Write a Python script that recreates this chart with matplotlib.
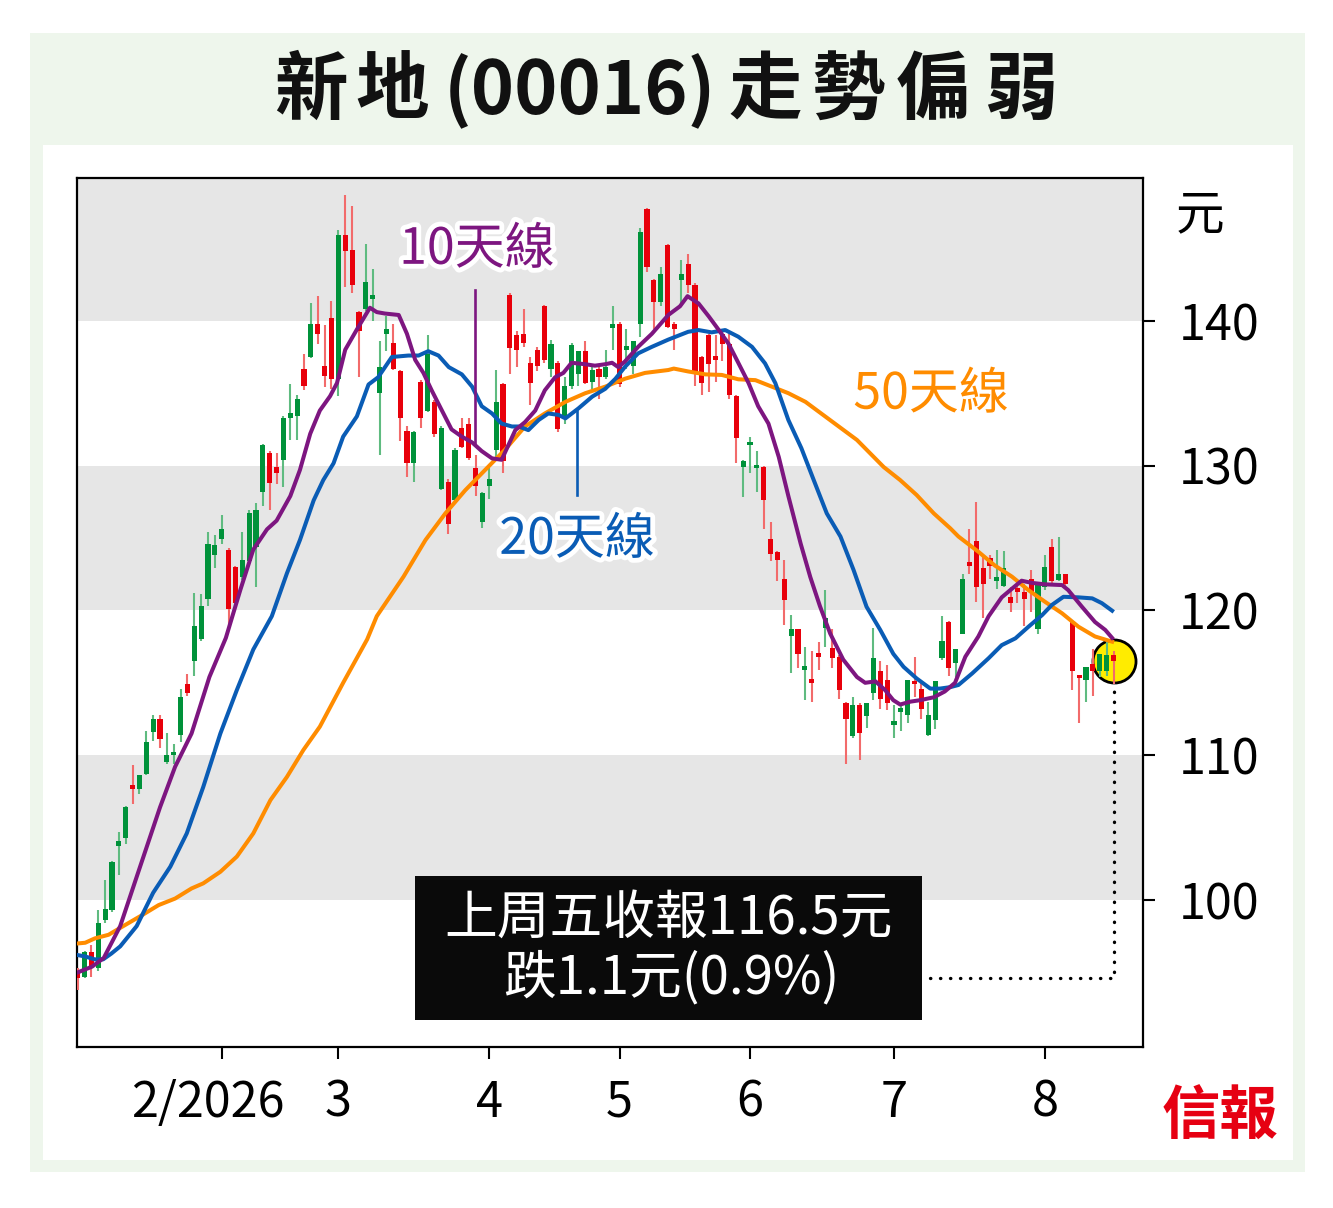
import matplotlib
matplotlib.use('Agg')
import matplotlib.pyplot as plt
from matplotlib.patches import Rectangle
import matplotlib.patheffects as pe
import numpy as np

plt.rcParams['font.family'] = ['Noto Sans CJK TC', 'DejaVu Sans']

# ---------------- data ----------------
opens = [95.0, 94.7, 96.4, 95.3, 98.6, 99.3, 103.7, 104.3, 107.9, 107.7,
         108.7, 111.6, 112.5, 109.5, 110.0, 111.4, 114.9, 116.5, 118.0, 120.8,
         123.8, 124.9, 124.2, 123.0, 122.3, 123.4, 124.4, 128.2, 130.9, 129.9,
         130.4, 133.3, 133.4, 136.7, 137.5, 139.8, 136.9, 140.2, 136.0, 145.9,
         144.9, 140.6, 140.8, 141.5, 135.0, 139.1, 138.5, 136.5, 132.4, 130.2,
         135.8, 133.8, 134.4, 128.4, 128.9, 127.6, 132.6, 132.9, 129.8, 126.1,
         128.6, 131.1, 135.6, 141.8, 139.0, 139.1, 137.1, 138.0, 141.0, 136.7,
         137.1, 133.2, 135.5, 136.3, 137.9, 135.8, 136.7, 136.1, 139.5, 139.8,
         138.0, 136.9, 139.8, 147.7, 142.8, 141.3, 145.2, 139.8, 142.8, 143.9,
         142.5, 137.5, 139.0, 137.6, 139.1, 138.4, 134.8, 129.9, 131.4, 129.8,
         129.9, 124.9, 124.0, 122.2, 118.2, 118.7, 115.9, 115.2, 116.9, 118.8,
         117.4, 116.8, 113.6, 111.3, 113.5, 112.7, 114.3, 115.8, 115.2, 112.1,
         113.0, 112.8, 115.1, 114.6, 111.4, 112.4, 116.7, 119.2, 116.4, 118.4,
         123.3, 124.8, 122.9, 123.6, 122.0, 121.7, 120.9, 121.5, 121.3, 122.2,
         118.7, 121.6, 124.4, 122.1, 122.5, 119.2, 115.4, 115.2, 116.3, 115.8,
         115.8, 116.9]
highs = [95.3, 96.5, 96.9, 99.3, 101.4, 102.7, 104.7, 106.5, 109.3, 108.6,
         111.7, 112.8, 112.8, 111.5, 110.8, 114.6, 115.6, 121.2, 121.1, 125.4,
         125.2, 126.6, 124.3, 123.1, 125.4, 126.9, 127.4, 131.5, 131.0, 130.9,
         133.4, 135.6, 134.9, 137.7, 141.2, 141.7, 139.7, 141.4, 146.3, 148.7,
         147.9, 140.7, 145.3, 143.6, 138.6, 140.3, 139.8, 136.6, 132.7, 132.4,
         135.9, 139.0, 134.5, 132.7, 129.1, 131.2, 133.3, 133.3, 130.7, 128.2,
         129.8, 136.6, 135.7, 141.9, 139.3, 140.8, 137.5, 138.2, 141.1, 138.7,
         137.2, 136.1, 138.5, 137.9, 138.6, 136.8, 136.8, 138.0, 141.0, 139.9,
         139.4, 138.6, 146.4, 147.8, 142.9, 143.7, 145.3, 139.9, 144.2, 144.6,
         142.6, 137.6, 139.1, 139.0, 139.4, 139.1, 134.9, 130.4, 132.0, 131.0,
         130.0, 126.1, 124.1, 123.5, 119.7, 118.7, 117.5, 117.2, 117.8, 121.4,
         118.7, 116.9, 113.7, 114.0, 113.6, 113.6, 118.8, 116.5, 116.2, 113.5,
         113.5, 115.2, 116.8, 115.2, 113.7, 115.1, 119.6, 119.3, 117.3, 122.5,
         125.6, 127.5, 123.8, 123.8, 124.2, 124.1, 121.6, 122.0, 121.8, 122.8,
         121.8, 123.8, 124.9, 125.1, 122.5, 119.3, 115.5, 116.1, 117.3, 117.0,
         117.9, 117.2]
lows = [93.8, 94.6, 94.7, 95.1, 98.4, 99.2, 101.7, 103.9, 106.6, 107.3,
        108.6, 111.0, 110.5, 109.4, 109.4, 110.9, 114.1, 115.5, 117.9, 120.3,
        122.9, 124.6, 118.7, 120.0, 122.1, 123.3, 121.6, 127.2, 126.9, 128.7,
        128.5, 131.8, 131.8, 135.2, 137.4, 138.4, 135.4, 135.3, 134.8, 142.3,
        141.9, 136.1, 140.7, 140.0, 130.7, 137.9, 136.6, 131.7, 129.2, 128.9,
        132.6, 133.7, 132.0, 128.3, 125.3, 127.5, 131.2, 130.4, 127.9, 125.7,
        127.7, 130.6, 129.5, 136.3, 136.8, 138.2, 134.2, 136.5, 137.1, 136.1,
        132.3, 132.9, 135.3, 135.5, 135.6, 135.3, 134.6, 136.0, 138.0, 135.4,
        136.7, 136.3, 138.9, 143.4, 139.4, 141.0, 139.5, 138.0, 141.2, 141.9,
        135.5, 134.9, 135.1, 135.8, 137.2, 134.6, 130.2, 127.8, 129.5, 128.2,
        125.6, 123.4, 122.0, 119.0, 115.7, 116.0, 113.8, 113.7, 115.9, 117.5,
        116.0, 113.9, 109.4, 111.2, 109.7, 111.9, 113.8, 113.2, 113.1, 111.2,
        111.7, 112.2, 114.0, 112.5, 111.3, 111.8, 116.6, 115.5, 115.4, 118.4,
        122.5, 120.6, 119.5, 122.2, 121.5, 121.6, 119.9, 120.5, 118.9, 119.9,
        118.4, 121.4, 121.9, 122.0, 121.6, 114.5, 112.2, 113.7, 114.1, 115.4,
        115.5, 114.9]
closes = [94.6, 96.4, 95.4, 98.4, 99.4, 102.6, 104.1, 106.4, 107.7, 108.6,
          110.9, 112.5, 111.1, 110.0, 110.1, 114.0, 114.3, 118.9, 120.3, 124.6,
          124.5, 125.6, 120.1, 120.5, 123.5, 126.7, 126.9, 131.4, 128.8, 129.5,
          133.3, 133.6, 134.6, 135.5, 139.8, 139.1, 136.2, 136.0, 145.9, 144.8,
          142.5, 139.3, 142.7, 141.8, 136.8, 139.4, 136.7, 133.3, 130.2, 132.3,
          133.3, 137.7, 132.2, 132.6, 126.0, 131.1, 131.3, 130.5, 128.6, 128.1,
          129.1, 134.4, 130.3, 138.1, 138.0, 138.5, 135.7, 136.9, 137.3, 138.4,
          132.5, 135.5, 138.3, 137.9, 135.7, 136.6, 136.1, 136.8, 139.8, 135.6,
          138.2, 138.6, 146.1, 143.7, 141.3, 143.2, 139.6, 139.4, 143.2, 142.5,
          136.4, 135.7, 137.0, 137.3, 138.4, 134.9, 131.9, 130.3, 131.6, 130.0,
          127.6, 123.9, 123.5, 120.7, 118.7, 117.0, 116.0, 115.0, 116.8, 119.5,
          116.7, 114.5, 112.5, 113.5, 111.5, 113.6, 116.7, 113.9, 113.6, 112.2,
          113.1, 115.2, 114.9, 113.2, 112.8, 115.1, 117.9, 116.0, 117.3, 122.2,
          123.1, 121.6, 121.8, 123.1, 122.3, 122.9, 120.5, 121.3, 120.8, 121.2,
          121.8, 123.0, 122.0, 122.5, 121.8, 115.8, 115.3, 116.1, 115.8, 117.0,
          116.9, 116.5]

# moving averages (trading-day position, value)
ma10_x = [0, 2.1, 3.8, 6.2, 8.6, 12.0, 14.2, 16.6, 19.2, 21.6, 23.7, 25.6, 27.6,
          29.0, 31.0, 32.4, 33.9, 35.3, 36.8, 37.8, 39.0, 40.7, 42.6, 43.6, 44.8,
          46.8, 48.0, 49.2, 50.4, 51.6, 53.1, 54.5, 56.0, 57.5, 58.9, 60.4, 61.8,
          63.8, 65.2, 66.7, 68.1, 69.6, 70.8, 72.0, 74.0, 75.4, 76.9, 77.9, 78.8,
          79.8, 81.7, 83.7, 86.1, 87.8, 88.9, 90.5, 92.0, 93.4, 94.9, 96.3, 97.8,
          99.2, 100.7, 102.2, 103.6, 105.4, 106.8, 108.2, 109.7, 111.6, 113.6,
          114.8, 116.3, 117.7, 118.9, 119.9, 121.4, 122.8, 124.8, 126.4, 127.9,
          129.4, 131.3, 132.8, 134.7, 136.2, 137.6, 139.1, 141.0, 143.5, 144.4,
          146.4, 148.3, 149.8, 150.8]
ma10_v = [95.0, 95.4, 96.0, 98.2, 101.6, 106.4, 109.2, 111.5, 115.4, 118.1, 121.4,
          124.2, 125.6, 126.2, 127.9, 129.7, 132.2, 133.8, 134.8, 135.7, 138.0,
          139.4, 140.9, 140.6, 140.5, 140.4, 139.1, 137.3, 136.4, 135.2, 133.8,
          132.5, 132.0, 131.6, 131.0, 130.5, 130.4, 132.45, 133.0, 133.8, 135.2,
          136.1, 136.4, 137.1, 137.0, 136.9, 137.0, 137.1, 136.8, 137.2, 138.2,
          139.1, 140.4, 141.0, 141.7, 141.2, 140.3, 139.4, 138.4, 137.1, 135.7,
          134.1, 132.9, 130.6, 127.9, 124.6, 122.3, 120.3, 118.4, 116.6, 115.4,
          115.0, 115.1, 114.5, 113.8, 113.5, 113.7, 113.8, 114.0, 114.4, 115.0,
          116.8, 118.2, 119.6, 120.9, 121.5, 122.05, 121.9, 121.8, 121.75, 121.4,
          120.25, 119.2, 118.65, 118.1]

ma20_x = [0, 1.1, 2.5, 3.7, 4.9, 6.2, 8.6, 11.0, 13.5, 15.9, 18.3, 20.8, 23.2,
          25.6, 28.3, 30.5, 32.4, 34.4, 35.8, 37.3, 38.7, 40.7, 42.4, 43.8, 45.8,
          48.2, 49.7, 51.1, 52.6, 54.1, 56.0, 57.5, 58.9, 60.4, 61.8, 63.3, 64.3,
          65.7, 67.2, 68.6, 70.1, 71.1, 73.0, 75.0, 76.9, 78.4, 79.8, 81.7, 83.7,
          86.1, 89.0, 90.5, 92.4, 94.4, 96.3, 98.3, 100.2, 101.7, 103.6, 105.5,
          107.3, 109.2, 111.2, 113.1, 115.0, 117.0, 118.9, 120.4, 122.3, 124.3,
          125.7, 127.2, 128.4, 130.4, 132.8, 134.7, 136.7, 138.6, 140.6, 142.0,
          143.7, 145.9, 147.9, 149.3, 150.8]
ma20_v = [96.2, 96.1, 95.9, 95.9, 96.3, 96.8, 98.2, 100.5, 102.3, 104.6, 107.8,
          111.5, 114.5, 117.3, 119.6, 122.56, 124.86, 127.6, 129.0, 130.16, 132.0,
          133.4, 135.6, 136.1, 137.5, 137.6, 137.6, 137.9, 137.6, 136.8, 136.3,
          135.45, 134.1, 133.6, 132.9, 132.7, 132.7, 132.45, 133.15, 133.6, 133.5,
          133.26, 133.95, 134.76, 135.3, 136.0, 136.83, 137.75, 138.2, 138.7,
          139.24, 139.36, 139.2, 139.36, 138.9, 138.2, 137.06, 135.7, 133.15,
          131.2, 129.0, 126.7, 125.1, 122.8, 120.25, 118.65, 117.0, 116.1, 115.3,
          114.6, 114.6, 114.7, 114.85, 115.65, 116.7, 117.6, 118.07, 118.87,
          119.68, 120.37, 120.94, 120.9, 120.83, 120.5, 119.98]

ma50_x = [0, 1.1, 2.5, 4.5, 6.9, 9.4, 11.8, 14.2, 16.6, 18.3, 20.8, 23.2, 25.6,
          28.1, 30.5, 32.9, 35.3, 38.7, 42.2, 43.6, 47.5, 50.7, 53.6, 56.5, 59.4,
          62.3, 65.2, 68.1, 71.1, 74.0, 76.9, 79.8, 82.7, 86.1, 86.9, 89.0, 91.5,
          93.9, 96.3, 98.8, 101.2, 103.6, 106.1, 113.6, 117.5, 119.9, 122.3, 124.8,
          127.2, 128.4, 131.3, 133.7, 136.2, 138.6, 141.0, 143.5, 145.9, 148.3,
          150.8]
ma50_v = [97.0, 97.05, 97.35, 97.6, 98.27, 98.96, 99.65, 100.1, 100.8, 101.15,
          101.95, 103.0, 104.6, 106.9, 108.5, 110.36, 111.97, 115.0, 118.0, 119.6,
          122.33, 124.86, 126.7, 128.3, 129.7, 131.1, 132.7, 133.6, 134.4, 135.0,
          135.45, 136.0, 136.4, 136.6, 136.7, 136.5, 136.3, 136.26, 135.96, 135.9,
          135.45, 135.0, 134.4, 131.77, 129.9, 129.0, 127.97, 126.7, 125.67,
          125.1, 124.05, 123.1, 122.33, 121.4, 120.6, 119.8, 118.87, 118.2, 117.84]

month_ticks = [21, 38, 60, 79, 98, 119, 141]
month_labels = ['2/2026', '3', '4', '5', '6', '7', '8']
y_ticks = [100, 110, 120, 130, 140]

title_parts = ['新', '地', '(00016)', '走', '勢', '偏', '弱']
note_line1 = '上周五收報116.5元'
note_line2 = '跌1.1元(0.9%)'

# ---------------- layout ----------------
W, H = 1333, 1208
def fx(px):
    return px / W
def fy(py):
    return 1 - py / H

fig = plt.figure(figsize=(W / 100, H / 100), dpi=100)
fig.patch.set_facecolor('white')
green_bg = '#eef6ec'
fig.patches.append(Rectangle((fx(30), fy(1172)), (1305 - 30) / W, (1172 - 33) / H,
                             transform=fig.transFigure, facecolor=green_bg,
                             edgecolor='none', zorder=-3))
fig.patches.append(Rectangle((fx(43), fy(1160)), (1293 - 43) / W, (1160 - 145) / H,
                             transform=fig.transFigure, facecolor='white',
                             edgecolor='none', zorder=-2))

# title, spaced out like the original
title_centres = [311, 392, 580, 765, 848, 932, 1021]
for part, cx in zip(title_parts, title_centres):
    fig.text(fx(cx), fy(92), part, ha='center', va='center', fontsize=53,
             fontweight='bold', color='#111111')
fig.text(fx(1220), fy(1118), '信報', ha='center', va='center', fontsize=42,
         fontweight='bold', color='#e60012')

ax = fig.add_axes([fx(77), fy(1047), (1143 - 77) / W, (1047 - 178) / H])
ax.set_xlim(-0.1, 155.3)
ax.set_ylim(89.85, 149.86)
ax.set_facecolor('white')

# background bands
for lo in (100, 120, 140):
    ax.axhspan(lo, lo + 10, color='#e6e6e6', lw=0, zorder=0)

O = np.array(opens); Hh = np.array(highs); L = np.array(lows); C = np.array(closes)
x = np.arange(len(C))
up = C >= O
body_col = np.where(up, '#00923a', '#e8000b')
wick_col = np.where(up, '#5fbb80', '#f26b6b')
bottoms = np.minimum(O, C)
heights = np.maximum(np.abs(C - O), 0.25)

# yellow circle behind candles
ax.plot([x[-1]], [C[-1]], 'o', ms=31, mfc='#ffec00', mec='black', mew=2.0, zorder=2)
# dotted connector
ax.plot([124.3, x[-1], x[-1]], [94.6, 94.6, 114.9], color='black', lw=2.4,
        ls=(0, (0.1, 2.9)), dash_capstyle='round', zorder=1.8)

ax.vlines(x, L, Hh, colors=wick_col, lw=1.5, zorder=3)
ax.bar(x, heights, bottom=bottoms, width=0.75, color=body_col, lw=0, zorder=3.5)

ax.plot(ma50_x, ma50_v, color='#ff8c00', lw=2.9, zorder=4, solid_joinstyle='round')
ax.plot(ma20_x, ma20_v, color='#0a5cb5', lw=2.9, zorder=4.2, solid_joinstyle='round')
ax.plot(ma10_x, ma10_v, color='#7d1680', lw=2.9, zorder=4.4, solid_joinstyle='round')

# pointer lines
ax.plot([57.9, 57.9], [142.1, 131.4], color='#7d1680', lw=1.9, zorder=4.5)
ax.plot([72.8, 72.8], [133.8, 128.0], color='#0a5cb5', lw=1.9, zorder=4.5)

stroke = [pe.withStroke(linewidth=7, foreground='white')]
ax.text(58.2, 144.9, '10天線', color='#7d1680', fontsize=36, ha='center',
        va='center', path_effects=stroke, zorder=6)
ax.text(72.8, 124.87, '20天線', color='#0a5cb5', fontsize=36, ha='center',
        va='center', path_effects=stroke, zorder=6)
ax.text(124.4, 134.9, '50天線', color='#ff8c00', fontsize=36, ha='center',
        va='center', path_effects=stroke, zorder=6)

# note box
ax.add_patch(Rectangle((49.2, 91.7), 73.9, 9.96, facecolor='#0a0a0a',
                       edgecolor='none', zorder=6))
ax.text(86.2, 98.76, note_line1, color='white', fontsize=38, ha='center',
        va='center', zorder=7)
ax.text(86.5, 94.6, note_line2, color='white', fontsize=38, ha='center',
        va='center', zorder=7)

# axes styling
for s in ax.spines.values():
    s.set_linewidth(1.6)
    s.set_color('black')
ax.yaxis.tick_right()
ax.set_yticks(y_ticks)
ax.set_yticklabels([str(v) for v in y_ticks])
ax.tick_params(axis='y', direction='out', length=8.6, width=1.5, pad=17,
               labelsize=35, right=True, left=False)
ax.set_xticks(month_ticks)
ax.set_xticklabels([])
ax.tick_params(axis='x', direction='out', length=8.6, width=1.5)
xt = ax.get_xaxis_transform()
label_x = [18.9] + month_ticks[1:]
for lx, lab in zip(label_x, month_labels):
    ax.text(lx, -0.0644, lab, transform=xt, ha='center', va='center',
            fontsize=35, clip_on=False)
ax.text(1.0535, 0.957, '元', transform=ax.transAxes, ha='center', va='center',
        fontsize=35, clip_on=False)

fig.savefig('out.png', dpi=100)
